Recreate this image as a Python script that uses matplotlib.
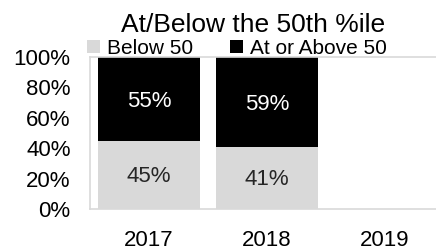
import numpy as np
import matplotlib
matplotlib.use("Agg")
import matplotlib.pyplot as plt

plt.rcParams['font.family'] = ['Liberation Sans Narrow', 'Liberation Sans', 'DejaVu Sans']

# data
years = ["2017", "2018", "2019"]
below = [0.45, 0.41, 0.0]
above = [0.55, 0.59, 0.0]
below_lbl = ["45%", "41%", ""]
above_lbl = ["55%", "59%", ""]

fig = plt.figure(figsize=(4.36, 2.5), dpi=100)
ax = fig.add_axes([90/436, 41/250, 354/436, 152/250])

x = np.arange(len(years))
w = 0.86
b1 = ax.bar(x, below, w, color='#d9d9d9', label='Below 50')
b2 = ax.bar(x, above, w, bottom=below, color='black', label='At or Above 50')

for i in range(len(years)):
    if below_lbl[i]:
        ax.text(x[i], below[i]/2 - 0.01, below_lbl[i], ha='center', va='center',
                fontsize=16, color='#262626')
    if above_lbl[i]:
        ax.text(x[i], below[i] + above[i]/2 - 0.02, above_lbl[i], ha='center',
                va='center', fontsize=16, color='white')

ax.set_xlim(-0.5, 2.5)
ax.set_ylim(0, 1)
ax.set_yticks([0, 0.2, 0.4, 0.6, 0.8, 1.0])
ax.set_yticklabels(["0%", "20%", "40%", "60%", "80%", "100%"])
ax.set_xticks(x)
ax.set_xticklabels(years)
ax.tick_params(axis='both', length=0, labelsize=16)
ax.tick_params(axis='x', pad=15)
ax.tick_params(axis='y', pad=14)
for s in ax.spines.values():
    s.set_color('#d9d9d9')
    s.set_linewidth(1.2)

fig.text(253/436, 1 - 25/250, "At/Below the 50th %ile", ha='center',
         va='center', fontsize=19)
fig.legend(handles=[b1, b2], loc='center left',
           bbox_to_anchor=(87/436, 1 - 48/250), ncol=2, frameon=False,
           fontsize=15, handlelength=0.6, handleheight=0.6,
           handletextpad=0.35, columnspacing=1.8, borderaxespad=0,
           borderpad=0)

fig.savefig("out.png", dpi=100)
